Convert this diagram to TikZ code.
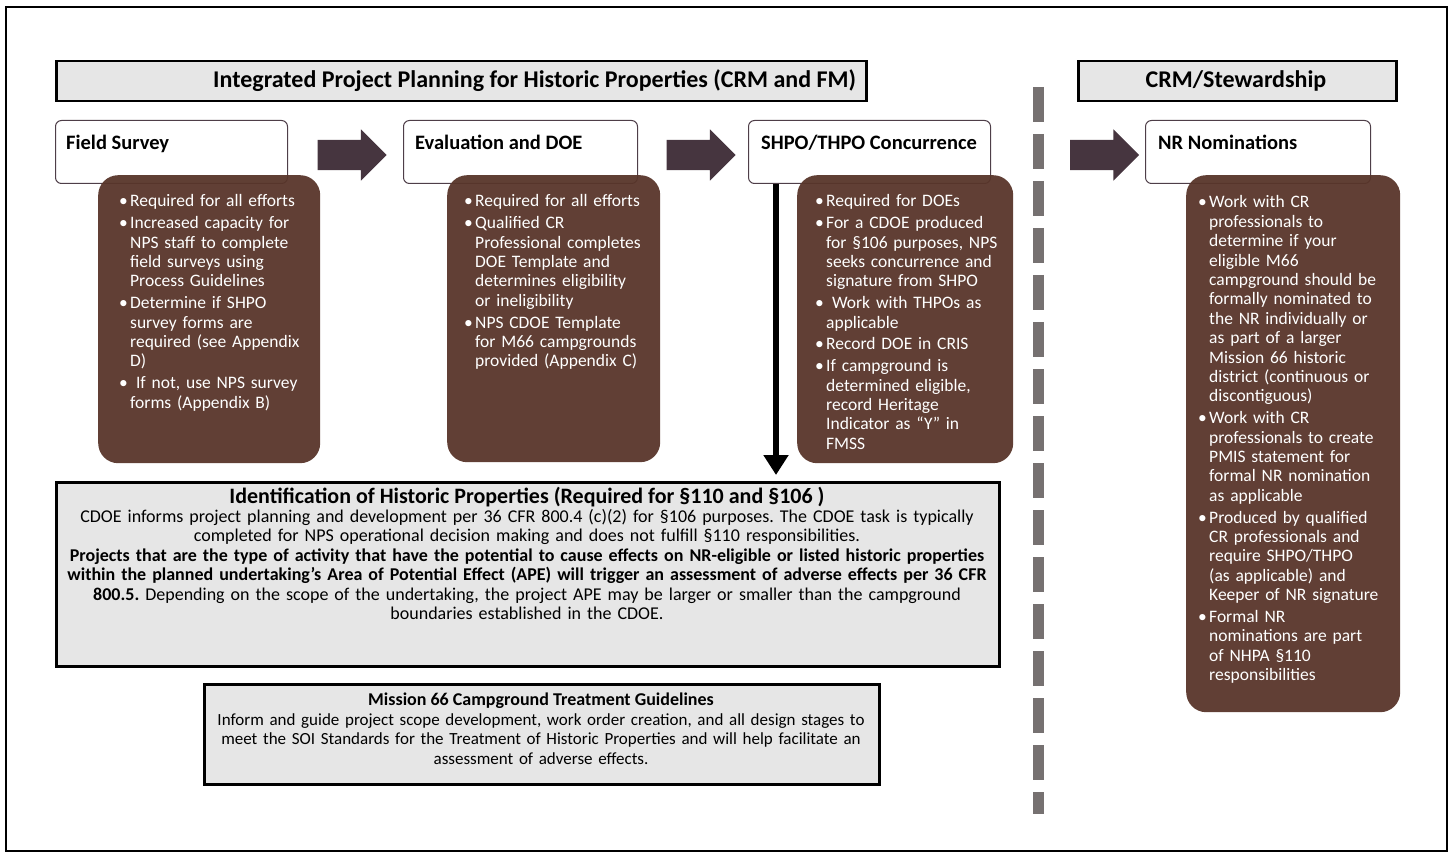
\documentclass[tikz,border=0pt]{standalone}
\usepackage{fontspec}
\setmainfont{Carlito}
\usetikzlibrary{shapes.arrows,arrows.meta}

\definecolor{brownfill}{HTML}{58352A}
\definecolor{arrowfill}{HTML}{46353F}
\definecolor{panelgray}{HTML}{E6E6E6}
\definecolor{labeledge}{HTML}{4E3E48}
\definecolor{dashgray}{HTML}{767171}

\frenchspacing

% bullet and continuation indent for the brown lists
\newcommand\bl{\makebox[11pt][l]{\textbullet}}
\newcommand\ind{\hspace*{11pt}}
\newcommand\igap{\\[2.4pt]}

\tikzset{
  header/.style={draw=black, line width=2.5pt, fill=panelgray, inner sep=0pt,
    minimum height=40pt, anchor=north west},
  headtext/.style={inner sep=0pt, font=\fontsize{24}{28}\selectfont\bfseries},
  stagebox/.style={draw=labeledge, line width=1pt, rounded corners=6pt,
    fill=white, anchor=north west, inner sep=0pt},
  stagetext/.style={anchor=base west, inner sep=0pt,
    font=\fontsize{20.5}{24}\selectfont\bfseries},
  notebox/.style={fill=brownfill, fill opacity=0.95, rounded corners=20pt,
    anchor=north west, inner sep=0pt},
  notetext/.style={anchor=base west, inner sep=0pt, text=white,
    text width=230pt, align=left,
    font=\fontsize{17.5}{19.4}\selectfont},
  blockarrow/.style={shape=single arrow, fill=arrowfill, draw=none,
    single arrow head extend=10.5pt, inner xsep=0pt, inner ysep=15pt,
    minimum height=69pt, outer sep=0pt},
  infobox/.style={draw=black, line width=2.5pt, fill=panelgray,
    anchor=north west, inner sep=0pt},
  flowline/.style={line width=6pt, -{Triangle[width=24pt,length=20pt]}},
}

\begin{document}
\begin{tikzpicture}[x=1pt,y=-1pt]
\useasboundingbox (0,0) rectangle (1453,858);

% outer frame
\draw[line width=2.5pt] (6,7) rectangle (1447,851);

% section headers
\node[header, minimum width=810pt] (h1) at (55,60) {};
\node[headtext, anchor=base west] (h1t) at (213,88)
  {Integrated Project Planning for Historic Properties (CRM and FM)};
\node[header, minimum width=318pt] (h2) at (1077,60) {};
\node[headtext, anchor=base] (h2t) at (1236,88) {CRM/Stewardship};

% separator between planning and stewardship
\coordinate (sepT) at (1038,87);
\coordinate (sepB) at (1038,814);
\draw[dashgray, line width=11pt, dash pattern=on 35pt off 12pt] (sepT) -- (sepB);

% stage boxes
\node[stagebox, minimum width=232pt, minimum height=63pt] (fs) at (55,120) {};
\node[stagebox, minimum width=234pt, minimum height=63pt] (ev) at (403,120) {};
\node[stagebox, minimum width=242pt, minimum height=63pt] (sh) at (748,120) {};
\node[stagebox, minimum width=225pt, minimum height=63pt] (nr) at (1145,120) {};

\node[stagetext] (fst) at (66,150) {Field Survey};
\node[stagetext] (evt) at (415,150) {Evaluation and DOE};
\node[stagetext] (sht) at (761,150) {SHPO/THPO Concurrence};
\node[stagetext] (nrt) at (1158,150) {NR Nominations};

% block arrows between stages
\node[blockarrow] (a1) at (344.5,155) {};
\node[blockarrow] (a2) at (693.5,155) {};
\node[blockarrow] (a3) at (1097,155) {};

% brown note boxes
\node[notebox, minimum width=222pt, minimum height=288pt] (fsn) at (98,175) {};
\node[notebox, minimum width=213pt, minimum height=287pt] (evn) at (447,175) {};
\node[notebox, minimum width=216pt, minimum height=288pt] (shn) at (797,175) {};
\node[notebox, minimum width=214pt, minimum height=537pt] (nrn) at (1186,175) {};

\node[notetext] (fsl) at (119,207) {%
\bl Required for all efforts\igap
\bl Increased capacity for\\
\ind NPS staff to complete\\
\ind field surveys using\\
\ind Process Guidelines\igap
\bl Determine if SHPO\\
\ind survey forms are\\
\ind required (see Appendix\\
\ind D)\igap
\bl\ If not, use NPS survey\\
\ind forms (Appendix B)};

\node[notetext] (evl) at (464,207) {%
\bl Required for all efforts\igap
\bl Qualified CR\\
\ind Professional completes\\
\ind DOE Template and\\
\ind determines eligibility\\
\ind or ineligibility\igap
\bl NPS CDOE Template\\
\ind for M66 campgrounds\\
\ind provided (Appendix C)};

\node[notetext] (shl) at (815,207) {%
\bl Required for DOEs\igap
\bl For a CDOE produced\\
\ind for §106 purposes, NPS\\
\ind seeks concurrence and\\
\ind signature from SHPO\igap
\bl\ Work with THPOs as\\
\ind applicable\igap
\bl Record DOE in CRIS\igap
\bl If campground is\\
\ind determined eligible,\\
\ind record Heritage\\
\ind Indicator as “Y” in\\
\ind FMSS};

\node[notetext] (nrl) at (1198,208) {%
\bl Work with CR\\
\ind professionals to\\
\ind determine if your\\
\ind eligible M66\\
\ind campground should be\\
\ind formally nominated to\\
\ind the NR individually or\\
\ind as part of a larger\\
\ind Mission 66 historic\\
\ind district (continuous or\\
\ind discontiguous)\igap
\bl Work with CR\\
\ind professionals to create\\
\ind PMIS statement for\\
\ind formal NR nomination\\
\ind as applicable\igap
\bl Produced by qualified\\
\ind CR professionals and\\
\ind require SHPO/THPO\\
\ind (as applicable) and\\
\ind Keeper of NR signature\igap
\bl Formal NR\\
\ind nominations are part\\
\ind of NHPA §110\\
\ind responsibilities};

% identification panel
\node[infobox, minimum width=943pt, minimum height=184pt] (idb) at (55,481) {};
\node[anchor=base, inner sep=0pt, font=\fontsize{22}{24}\selectfont\bfseries]
  (idt) at (527,503) {Identification of Historic Properties (Required for §110 and §106 )};
\node[anchor=base, inner sep=0pt, text width=940pt, align=center,
  font=\fontsize{18}{19.5}\selectfont] (idx) at (527,522) {%
CDOE informs project planning and development per 36 CFR 800.4 (c)(2) for §106 purposes. The CDOE task is typically\\
completed for NPS operational decision making and does not fulfill §110 responsibilities.\\
\textbf{Projects that are the type of activity that have the potential to cause effects on NR-eligible or listed historic properties}\\
\textbf{within the planned undertaking’s Area of Potential Effect (APE) will trigger an assessment of adverse effects per 36 CFR}\\
\textbf{800.5.} Depending on the scope of the undertaking, the project APE may be larger or smaller than the campground\\
boundaries established in the CDOE.};

% treatment guidelines panel
\node[infobox, minimum width=675pt, minimum height=100pt] (mg) at (203,683) {};
\node[anchor=base, inner sep=0pt, font=\fontsize{18}{19.5}\selectfont\bfseries]
  (mgt) at (541,705) {Mission 66 Campground Treatment Guidelines};
\node[anchor=base, inner sep=0pt, text width=670pt, align=center,
  font=\fontsize{17}{19.5}\selectfont] (mgx) at (541,725) {%
Inform and guide project scope development, work order creation, and all design stages to\\
meet the SOI Standards for the Treatment of Historic Properties and will help facilitate an\\
assessment of adverse effects.};

% concurrence feeds identification
\coordinate (vx) at (776,0);
\draw[flowline, shorten >=6pt] (sh.south -| vx) -- (idb.north -| vx);

\end{tikzpicture}
\end{document}
